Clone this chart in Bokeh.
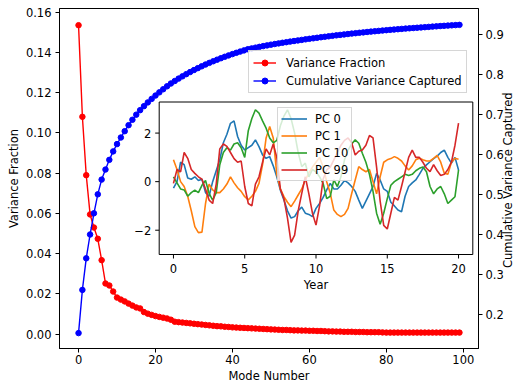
import math
from bokeh.plotting import figure
from bokeh.models import Range1d, LinearAxis, FixedTicker, Legend, LegendItem
from bokeh.core.properties import value
from bokeh.embed import file_html
from bokeh.resources import INLINE
import numpy as np

# ---------------- data ----------------
mode_number = list(range(100))

variance_fraction = [
    0.1535, 0.1080, 0.0790, 0.0595, 0.0530, 0.0474, 0.0368, 0.0252, 0.0242, 0.0212,
    0.0182, 0.0172, 0.0163, 0.0152, 0.0142, 0.0133, 0.0128, 0.0110, 0.0102, 0.0096,
    0.0090, 0.0086, 0.0082, 0.0078, 0.0072, 0.0062, 0.0060, 0.0058, 0.0056, 0.0054,
    0.0052, 0.0050, 0.0048, 0.0046, 0.0044, 0.0042, 0.0040, 0.0039, 0.0037, 0.0036,
    0.0034, 0.0033, 0.0032, 0.0031, 0.0030, 0.0029, 0.0028, 0.0027, 0.0026, 0.0025,
    0.0024, 0.0023, 0.0022, 0.0021, 0.0021, 0.0020, 0.0019, 0.0019, 0.0018, 0.0018,
    0.0017, 0.0017, 0.0016, 0.0016, 0.0015, 0.0014, 0.0014, 0.0013, 0.0013, 0.0012,
    0.0012, 0.0012, 0.0011, 0.0011, 0.0011, 0.0010, 0.0010, 0.0010, 0.0010, 0.0009,
    0.0008, 0.0008, 0.0008, 0.0008, 0.0008, 0.0008, 0.0008, 0.0008, 0.0008, 0.0008,
    0.0008, 0.0008, 0.0008, 0.0008, 0.0008, 0.0008, 0.0008, 0.0008, 0.0008, 0.0008,
]

cumulative_variance = [
    0.1535, 0.2615, 0.3405, 0.4000, 0.4530, 0.5004, 0.5372, 0.5624, 0.5866, 0.6078,
    0.6260, 0.6425, 0.6583, 0.6733, 0.6868, 0.6996, 0.7108, 0.7208, 0.7302, 0.7390,
    0.7474, 0.7554, 0.7631, 0.7705, 0.7775, 0.7837, 0.7897, 0.7954, 0.8009, 0.8061,
    0.8111, 0.8159, 0.8205, 0.8249, 0.8291, 0.8331, 0.8370, 0.8407, 0.8443, 0.8477,
    0.8510, 0.8542, 0.8573, 0.8603, 0.8632, 0.8652, 0.8672, 0.8691, 0.8710, 0.8728,
    0.8746, 0.8762, 0.8778, 0.8793, 0.8808, 0.8823, 0.8837, 0.8851, 0.8865, 0.8879,
    0.8892, 0.8905, 0.8918, 0.8931, 0.8943, 0.8955, 0.8967, 0.8979, 0.8990, 0.9001,
    0.9012, 0.9023, 0.9033, 0.9043, 0.9053, 0.9063, 0.9072, 0.9081, 0.9090, 0.9099,
    0.9108, 0.9116, 0.9124, 0.9132, 0.9140, 0.9148, 0.9155, 0.9162, 0.9169, 0.9176,
    0.9183, 0.9190, 0.9197, 0.9204, 0.9211, 0.9217, 0.9223, 0.9229, 0.9235, 0.9241,
]

left_ticks = [0.00, 0.02, 0.04, 0.06, 0.08, 0.10, 0.12, 0.14, 0.16]
right_ticks = [0.2, 0.3, 0.4, 0.5, 0.6, 0.7, 0.8, 0.9]
mode_ticks = [0, 20, 40, 60, 80, 100]

# inset: quarterly samples over 20 years (one row = one year, 4 values)
years = np.linspace(0, 20, 81)
pc0 = [
    -0.27, 0.0, 0.8, 0.7,
    0.15, 0.1, 0.2, 0.05,
    0.1, -0.45, -0.6, 0.0,
    0.45, 0.9, 1.6, 1.95,
    2.4, 2.5, 1.86, 1.5,
    1.3, 1.4, 1.5, 1.72,
    1.44, 1.1, 0.96, 1.03,
    0.65, 0.2, -0.35, -0.76,
    -1.2, -1.5, -1.44, -1.2,
    -1.05, -1.3, -1.35, -1.44,
    -1.1, -0.9, -0.65, -0.34,
    -0.07, -0.3, -0.3, -0.15,
    0.05, -0.05, -0.2, -0.4,
    -0.76, -1.1, -0.8, -0.5,
    -0.2, 0.34, 0.07, -0.3,
    -0.4, -0.85, -1.0, -1.17,
    -1.24, -0.6, -0.2, -0.05,
    0.07, 0.3, 0.55, 0.69,
    0.82, 0.95, 1.05, 1.2,
    1.3, 1.0, 0.76, 1.0,
    0.48,
]
pc1 = [
    0.9, 0.5, 0.0, -0.2,
    -0.6, -1.2, -1.85, -2.1,
    -2.08, -0.9, -0.1, -0.34,
    -0.45, -0.45, -0.3, -0.1,
    0.2, -0.05, -0.25, -0.4,
    -0.62, -0.75, -0.6, -0.4,
    -0.07, 0.7, 1.8, 2.27,
    1.8, 0.3, -0.3, -0.62,
    -0.85, -1.03, -0.8, -0.55,
    -0.3, 0.07, 0.35, 0.6,
    0.8, 1.0, 0.6, 0.0,
    -0.48, -1.17, -1.35, -1.44,
    -1.35, -1.1, -0.5, 0.07,
    0.62, 0.5, 0.41, 0.5,
    0.0, -0.5, 0.2, 0.8,
    0.9, 0.95, 1.03, 0.96,
    0.85, 0.65, 0.48, 0.65,
    0.9, 0.96, 0.9, 0.85,
    0.85, 0.96, 1.08, 0.8,
    0.35, 0.3, 0.8, 0.96,
    0.92,
]
pc10 = [
    0.2, -0.05, -0.3, -0.34,
    -0.6, -0.45, -0.35, -0.45,
    -0.15, 0.05, -0.48, -0.76,
    -0.45, 0.7, 1.2, 1.4,
    1.3, 1.55, 1.6, 1.4,
    1.0, 2.1, 2.6, 2.96,
    2.82, 2.5, 2.2, 1.8,
    1.6, 1.7, 2.3, 2.7,
    2.96, 2.6, 2.0, 1.2,
    0.62, 0.76, 0.2, 0.5,
    0.4, 0.2, -0.07, -0.7,
    -0.6, 0.07, -0.2, 0.2,
    0.9, 1.3, 1.55, 1.72,
    1.58, 1.17, 0.8, 0.3,
    -0.4, -1.3, -1.75, -1.3,
    -0.7, -0.15, 0.0, 0.1,
    0.2, 0.3, 0.25, 0.3,
    0.45, 0.55, 0.6, 0.41,
    -0.2, -0.5, -0.3, -0.2,
    -0.5, -0.9, -0.76, -0.62,
    0.48,
]
pc99 = [
    -0.07, 0.5, 0.4, 1.2,
    0.96, 0.5, 0.34, 0.2,
    0.1, -0.3, -0.76, -0.9,
    -0.1, 1.35, 1.55, 1.45,
    1.2, 0.95, 0.8, 0.85,
    -0.2, -0.9, -1.0, -0.1,
    0.2, 0.8, 1.35, 1.1,
    1.55, 1.0, -0.3, -0.7,
    -1.5, -2.5, -2.2, -1.2,
    -0.48, 0.2, -0.5, -1.3,
    -1.79, -1.0, 0.1, 0.48,
    0.6, 0.9, 1.2, 1.5,
    1.7, 1.8, 1.6, 1.1,
    1.25, 1.3, 1.5, 1.9,
    1.8, 0.6, -0.8, -1.8,
    -1.95, -1.3, -0.65, -0.76,
    -0.2, 0.4, 1.0, 1.3,
    1.0, 1.0, 0.8, 0.55,
    0.41, 0.7, 0.45, 0.25,
    0.3, 0.5, 0.8, 1.5,
    2.41,
]
pc_names = ["PC 0", "PC 1", "PC 10", "PC 99"]
pc_colors = ["#1f77b4", "#ff7f0e", "#2ca02c", "#d62728"]
inset_xticks = [0, 5, 10, 15, 20]
inset_yticks = [-2, 0, 2]
inset_xlim = (-1.0, 21.0)
inset_ylim = (-3.0, 3.28)

FONT = "DejaVu Sans"
FS = "11.5px"
FW, FH = 419, 340                                   # main frame size (px)
IN_L, IN_R, IN_T, IN_B = 99.7, 413.3, 93.5, 246.0   # inset box inside frame (px)


def style_axis(ax):
    ax.axis_line_color = "black"
    ax.major_tick_line_color = "black"
    ax.minor_tick_line_color = None
    ax.major_tick_out = 4
    ax.major_tick_in = 0
    ax.major_label_text_font = FONT
    ax.major_label_text_font_size = FS
    ax.major_label_text_color = "black"
    ax.axis_label_text_font = FONT
    ax.axis_label_text_font_size = FS
    ax.axis_label_text_font_style = "normal"
    ax.axis_label_text_color = "black"
    ax.major_label_standoff = 4


def style_legend(lg, glyph_w, standoff, pad, spacing):
    lg.label_text_font = FONT
    lg.label_text_font_size = FS
    lg.label_text_color = "black"
    lg.glyph_width = glyph_w
    lg.glyph_height = 15
    lg.label_height = 15
    lg.spacing = spacing
    lg.padding = pad
    lg.margin = 0
    lg.label_standoff = standoff
    lg.border_line_color = "#cccccc"
    lg.border_line_alpha = 0.8
    lg.background_fill_color = "white"
    lg.background_fill_alpha = 0.8


# ---------------- main figure ----------------
p = figure(frame_width=FW, frame_height=FH, output_backend="svg",
           toolbar_location=None,
           x_range=Range1d(-4.95, 103.95), y_range=Range1d(-0.0071, 0.1618),
           min_border_left=59, min_border_right=39, min_border_top=8,
           min_border_bottom=35)

# inset coordinate system mapped onto the inset box of the frame
ix0, ix1 = inset_xlim
iy0, iy1 = inset_ylim
ux = (ix1 - ix0) / (IN_R - IN_L)
uy = (iy1 - iy0) / (IN_B - IN_T)
p.extra_x_ranges = {"ix": Range1d(ix0 - IN_L * ux, ix1 + (FW - IN_R) * ux)}
p.extra_y_ranges = {"cum": Range1d(0.115, 0.965),
                    "iy": Range1d(iy0 - (FH - IN_B) * uy, iy1 + IN_T * uy)}
p.grid.visible = False
p.outline_line_color = "black"
p.outline_line_alpha = 1.0
p.background_fill_color = "white"

r_line = p.line(mode_number, variance_fraction, line_color="red", line_width=1.4)
r_pts = p.scatter(mode_number, variance_fraction, size=5.5, fill_color="red",
                  line_color="red")
b_line = p.line(mode_number, cumulative_variance, line_color="blue",
                line_width=1.4, y_range_name="cum")
b_pts = p.scatter(mode_number, cumulative_variance, size=5.5, fill_color="blue",
                  line_color="blue", y_range_name="cum")

p.xaxis.ticker = FixedTicker(ticks=mode_ticks)
p.xaxis.axis_label = "Mode Number"
p.yaxis.ticker = FixedTicker(ticks=left_ticks)
p.yaxis.major_label_overrides = {t: f"{t:.2f}" for t in left_ticks}
p.yaxis.axis_label = "Variance Fraction"
for ax in p.xaxis + p.yaxis:
    style_axis(ax)
p.xaxis.major_label_standoff = 2
p.xaxis.axis_label_standoff = 2
p.yaxis.axis_label_standoff = 2

# right axis; its title reads bottom-to-top. With a numeric orientation the
# title starts at the axis start, so leading no-break spaces centre it.
ax2 = LinearAxis(y_range_name="cum", ticker=FixedTicker(ticks=right_ticks),
                 axis_label="\u00a0" * 22 + "Cumulative Variance Captured")
ax2.major_label_overrides = {t: f"{t:.1f}" for t in right_ticks}
style_axis(ax2)
ax2.major_label_standoff = 3
ax2.axis_label_standoff = 1
ax2.axis_label_orientation = math.pi / 2
ax2.axis_label_align = "start"
p.add_layout(ax2, "right")

legend = Legend(items=[
    LegendItem(label="Variance Fraction", renderers=[r_line, r_pts]),
    LegendItem(label="Cumulative Variance Captured", renderers=[b_line, b_pts]),
], location=(189, 255))
style_legend(legend, 23, 10, 4, 3)
p.add_layout(legend)

# ---------------- inset (drawn inside the main frame) ----------------
ikw = dict(x_range_name="ix", y_range_name="iy")
p.quad(left=[ix0], right=[ix1], bottom=[iy0], top=[iy1], fill_color="white",
       line_color="black", line_width=1, **ikw)

inset_items = []
for name, vals, col in zip(pc_names, [pc0, pc1, pc10, pc99], pc_colors):
    r = p.line(years, vals, line_color=col, line_width=1.6, **ikw)
    inset_items.append(LegendItem(label=name, renderers=[r]))

nx, ny = len(inset_xticks), len(inset_yticks)
p.segment(x0=inset_xticks, y0=[iy0] * nx, x1=inset_xticks,
          y1=[iy0 - 4 * uy] * nx, line_color="black", line_width=1, **ikw)
p.segment(x0=[ix0] * ny, y0=inset_yticks, x1=[ix0 - 4 * ux] * ny,
          y1=inset_yticks, line_color="black", line_width=1, **ikw)
txt = dict(text_font=value(FONT), text_font_size=value(FS), text_color="black")
p.text(x=inset_xticks, y=[iy0 - 14 * uy] * nx,
       text=[str(t) for t in inset_xticks], text_align="center",
       text_baseline="middle", **txt, **ikw)
p.text(x=[ix0 - 8 * ux] * ny, y=inset_yticks,
       text=[("\u2212" + str(abs(t))) if t < 0 else str(t) for t in inset_yticks],
       text_align="right", text_baseline="middle", **txt, **ikw)
p.text(x=[(ix0 + ix1) / 2], y=[iy0 - 30 * uy], text=["Year"],
       text_align="center", text_baseline="middle", **txt, **ikw)

leg2 = Legend(items=inset_items, location=(218, 167))
style_legend(leg2, 26, 8, 3, 2)
p.add_layout(leg2)

open("out.html", "w").write(file_html(p, INLINE))
